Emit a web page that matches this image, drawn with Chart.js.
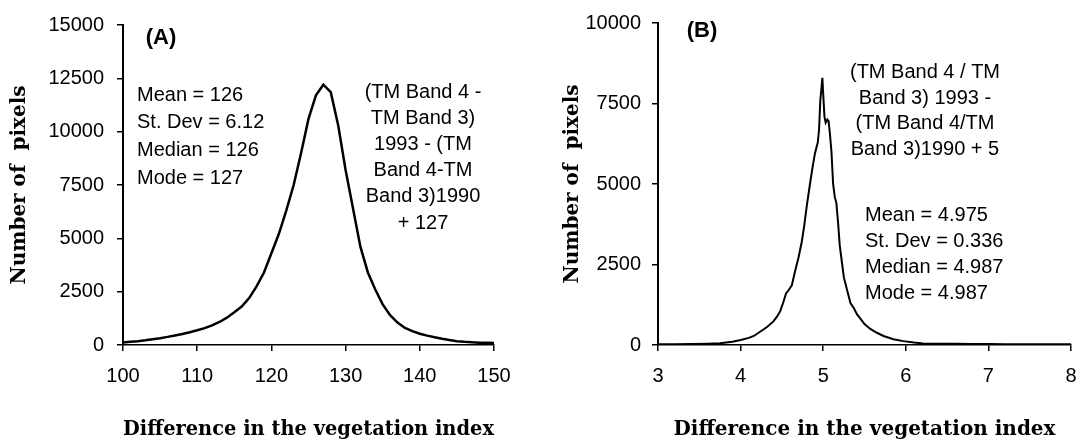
<!DOCTYPE html>
<html>
<head>
<meta charset="utf-8">
<script src="https://cdn.jsdelivr.net/npm/chart.js@4.4.1/dist/chart.umd.min.js"></script>
<style>
  html, body { margin: 0; padding: 0; background: #fff; }
  #wrap { position: relative; width: 1082px; height: 445px; background: #fff; }
  canvas { position: absolute; top: 0; }
  #ca { left: 0; }
  #cb { left: 541px; }
</style>
</head>
<body>
<div id="wrap">
  <canvas id="ca" width="541" height="445"></canvas>
  <canvas id="cb" width="541" height="445"></canvas>
</div>
<script>
// ---------- Panel A data ----------
const aIndex = [100,101,102,103,104,105,106,107,108,109,110,111,112,113,114,115,116,117,118,119,120,121,122,123,124,125,126,127,128,129,130,131,132,133,134,135,136,137,138,139,140,141,142,143,144,145,146,147,148,149,150];
const aPixels = [120,150,180,220,270,320,380,450,520,600,690,790,920,1080,1280,1530,1800,2200,2750,3400,4300,5200,6300,7500,9000,10600,11700,12200,11850,10300,8200,6400,4600,3400,2600,1900,1400,1050,800,650,530,440,360,290,230,180,150,130,110,100,90];
const aXTicks = [100,110,120,130,140,150];
const aYTicks = [0,2500,5000,7500,10000,12500,15000];

// ---------- Panel B data ----------
const bIndex = [3.00,3.20,3.40,3.60,3.75,3.90,4.00,4.10,4.16,4.24,4.32,4.40,4.44,4.48,4.52,4.55,4.58,4.62,4.66,4.70,4.74,4.77,4.80,4.84,4.87,4.90,4.92,4.935,4.95,4.965,4.98,4.99,5.00,5.015,5.03,5.05,5.065,5.08,5.10,5.12,5.14,5.16,5.18,5.20,5.23,5.25,5.29,5.33,5.37,5.41,5.45,5.50,5.57,5.65,5.73,5.85,5.97,6.10,6.21,6.40,6.60,6.80,7.00,7.20,7.50,7.80,8.00];
const bPixels = [20,25,30,40,55,100,155,220,280,420,560,740,880,1050,1350,1600,1700,1850,2300,2700,3200,3700,4300,5000,5500,5950,6150,6300,6700,7600,8000,8300,7800,7100,6900,7000,6950,6600,6000,5000,4600,4400,3800,3100,2500,2100,1700,1300,1150,950,820,650,500,380,280,180,120,75,50,40,35,30,30,25,25,20,20];
const bXTicks = [3,4,5,6,7,8];
const bYTicks = [0,2500,5000,7500,10000];

// ---------- Texts ----------
const xTitle = 'Difference in the vegetation index';
const yTitle = 'Number of  pixels';
const aLetter = '(A)';
const bLetter = '(B)';
const aStats = ['Mean = 126', 'St. Dev = 6.12', 'Median = 126', 'Mode = 127'];
const aNote = ['(TM Band 4 -', 'TM Band 3)', '1993 - (TM', 'Band 4-TM', 'Band 3)1990', '+ 127'];
const bNote = ['(TM Band 4 / TM', 'Band 3) 1993 -', '(TM Band 4/TM', 'Band 3)1990 + 5'];
const bStats = ['Mean = 4.975', 'St. Dev = 0.336', 'Median = 4.987', 'Mode = 4.987'];

const SANS = '"Liberation Sans", Arial, Helvetica, sans-serif';
const SERIF = '"DejaVu Serif", "Liberation Serif", serif';

const textPlugin = {
  id: 'panelText',
  afterDraw(chart, args, opts) {
    const ctx = chart.ctx;
    const ca = chart.chartArea;
    ctx.save();
    ctx.fillStyle = '#000';
    ctx.textBaseline = 'middle';
    (opts.blocks || []).forEach(b => {
      ctx.font = b.font;
      ctx.textAlign = b.align;
      b.lines.forEach((t, i) => {
        ctx.fillText(t, ca.left + b.dx, ca.top + b.dy + i * b.step);
      });
    });
    ctx.restore();
  }
};

function makeChart(id, xs, ys, cfg) {
  const pts = xs.map((x, i) => ({ x: x, y: ys[i] }));
  return new Chart(document.getElementById(id), {
    type: 'line',
    data: { datasets: [{ data: pts, borderColor: '#000', borderWidth: cfg.lw, pointRadius: 0, tension: 0, fill: false }] },
    plugins: [textPlugin],
    options: {
      responsive: false,
      animation: false,
      devicePixelRatio: 1,
      layout: { padding: { left: 0, right: cfg.padRight, top: cfg.padTop, bottom: 0 } },
      plugins: {
        legend: { display: false },
        tooltip: { enabled: false },
        panelText: { blocks: cfg.blocks }
      },
      scales: {
        x: {
          type: 'linear',
          min: cfg.xTicks[0], max: cfg.xTicks[cfg.xTicks.length - 1],
          afterBuildTicks(s) { s.ticks = cfg.xTicks.map(v => ({ value: v })); },
          afterFit(s) { s.height = 100; },
          ticks: { color: '#000', font: { family: SANS, size: 20, lineHeight: 2.5 }, padding: 0, maxRotation: 0, autoSkip: false, callback: v => String(v) },
          grid: { drawOnChartArea: false, drawTicks: true, tickLength: 6, color: '#000', lineWidth: 1.5 },
          border: { display: true, color: '#000', width: 1.5 },
          title: { display: true, text: xTitle, color: '#000', font: { family: SERIF, size: 20, weight: 'bold' }, padding: { top: 0, bottom: 3 } }
        },
        y: {
          type: 'linear',
          min: cfg.yTicks[0], max: cfg.yTicks[cfg.yTicks.length - 1],
          afterBuildTicks(s) { s.ticks = cfg.yTicks.map(v => ({ value: v })); },
          afterFit(s) { s.width = cfg.yWidth; },
          ticks: { color: '#000', font: { family: SANS, size: 20 }, padding: cfg.yPad, autoSkip: false, callback: v => String(v) },
          grid: { drawOnChartArea: false, drawTicks: true, tickLength: 6, color: '#000', lineWidth: 1.5 },
          border: { display: true, color: '#000', width: 2 },
          title: { display: true, text: yTitle, color: '#000', font: { family: SERIF, size: 20, weight: 'bold' }, padding: { top: cfg.yTitlePad, bottom: 0 } }
        }
      }
    }
  });
}

makeChart('ca', aIndex, aPixels, {
  lw: 2.5, padRight: 47, padTop: 18, yWidth: 123, yPad: 13, yTitlePad: 8,
  xTicks: aXTicks, yTicks: aYTicks,
  blocks: [
    { lines: [aLetter], font: 'bold 22px ' + SANS, align: 'center', dx: 38, dy: 13, step: 0 },
    { lines: aStats, font: '20px ' + SANS, align: 'left', dx: 14, dy: 70, step: 27.8 },
    { lines: aNote, font: '20px ' + SANS, align: 'center', dx: 300, dy: 67, step: 26.2 }
  ]
});

makeChart('cb', bIndex, bPixels, {
  lw: 2, padRight: 11, padTop: 23, yWidth: 117, yPad: 11, yTitlePad: 20,
  xTicks: bXTicks, yTicks: bYTicks,
  blocks: [
    { lines: [bLetter], font: 'bold 22px ' + SANS, align: 'center', dx: 44, dy: 8, step: 0 },
    { lines: bNote, font: '20px ' + SANS, align: 'center', dx: 267, dy: 49.5, step: 25.5 },
    { lines: bStats, font: '20px ' + SANS, align: 'left', dx: 207, dy: 192, step: 26 }
  ]
});
</script>
</body>
</html>
